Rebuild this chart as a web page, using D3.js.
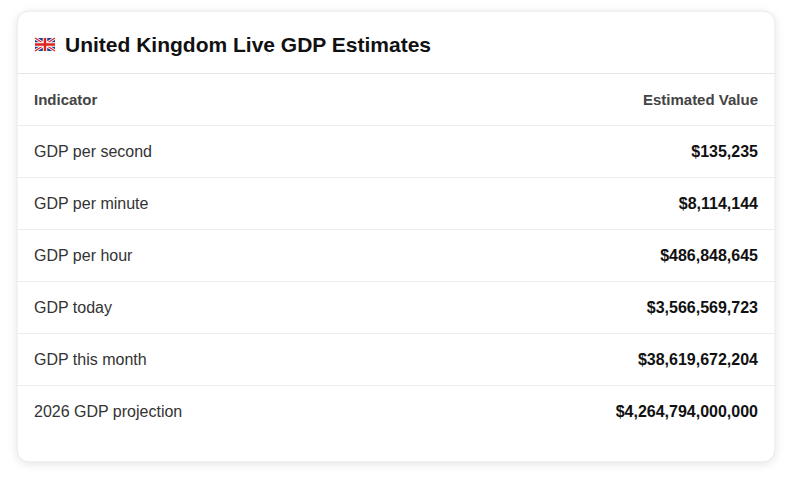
<!DOCTYPE html>
<html><head><meta charset="utf-8">
<script src="https://cdn.jsdelivr.net/npm/d3@7"></script>
<style>body{margin:0;background:#fff;font-family:"Liberation Sans",Arial,sans-serif}</style>
</head><body>
<svg id="c" width="791" height="486"></svg>
<script>
const title = "United Kingdom Live GDP Estimates";
const columns = ["Indicator", "Estimated Value"];
const indicators = ["GDP per second", "GDP per minute", "GDP per hour", "GDP today", "GDP this month", "2026 GDP projection"];
const values = [135235, 8114144, 486848645, 3566569723, 38619672204, 4264794000000];

const svg = d3.select("#c");
const defs = svg.append("defs");
const f = defs.append("filter").attr("id", "sh").attr("x", "-10%").attr("y", "-10%").attr("width", "120%").attr("height", "120%");
f.append("feDropShadow").attr("dx", 0).attr("dy", 2).attr("stdDeviation", 4).attr("flood-color", "#000").attr("flood-opacity", 0.1);

const L = 17, R = 775, T = 11, B = 462;
svg.append("rect").attr("x", L).attr("y", T).attr("width", R - L).attr("height", B - T)
  .attr("rx", 12).attr("fill", "#fff").attr("stroke", "#e6e6e6").attr("filter", "url(#sh)");

// flag
const fl = svg.append("g").attr("transform", "translate(35,38)");
const fw = 20, fh = 13;
fl.append("rect").attr("width", fw).attr("height", fh).attr("fill", "#1f3c8c");
fl.append("path").attr("d", `M0,0L${fw},${fh}M${fw},0L0,${fh}`).attr("stroke", "#fff").attr("stroke-width", 3);
fl.append("path").attr("d", `M0,0L${fw},${fh}M${fw},0L0,${fh}`).attr("stroke", "#d22").attr("stroke-width", 1.2);
fl.append("path").attr("d", `M${fw/2},0V${fh}M0,${fh/2}H${fw}`).attr("stroke", "#fff").attr("stroke-width", 4.5);
fl.append("path").attr("d", `M${fw/2},0V${fh}M0,${fh/2}H${fw}`).attr("stroke", "#d22").attr("stroke-width", 2.5);

svg.append("text").attr("x", 65).attr("y", 52).attr("font-size", 21).attr("font-weight", "bold")
  .attr("fill", "#111").text(title);

const y = d3.scaleBand().domain(d3.range(indicators.length + 1)).range([73.5, 385.5 + 52]);
const fmt = d3.format("$,.0f");

svg.append("line").attr("x1", L).attr("x2", R).attr("y1", 73.5).attr("y2", 73.5).attr("stroke", "#e4e4e4");

const rows = svg.selectAll("g.row").data(d3.range(indicators.length + 1)).join("g")
  .attr("transform", i => `translate(0,${y(i)})`);
rows.filter(i => i > 0).append("line").attr("x1", L).attr("x2", R).attr("stroke", "#ececec");

const mid = y.bandwidth() / 2;
rows.append("text").attr("x", 34).attr("y", mid).attr("dy", "0.35em")
  .attr("font-size", i => i === 0 ? 15 : 16).attr("font-weight", i => i === 0 ? "bold" : "normal")
  .attr("fill", i => i === 0 ? "#444" : "#333")
  .text(i => i === 0 ? columns[0] : indicators[i - 1]);
rows.append("text").attr("x", 758).attr("y", mid).attr("dy", "0.35em").attr("text-anchor", "end")
  .attr("font-size", i => i === 0 ? 15 : 16).attr("font-weight", "bold")
  .attr("fill", i => i === 0 ? "#444" : "#111")
  .text(i => i === 0 ? columns[1] : fmt(values[i - 1]));
</script>
</body></html>
